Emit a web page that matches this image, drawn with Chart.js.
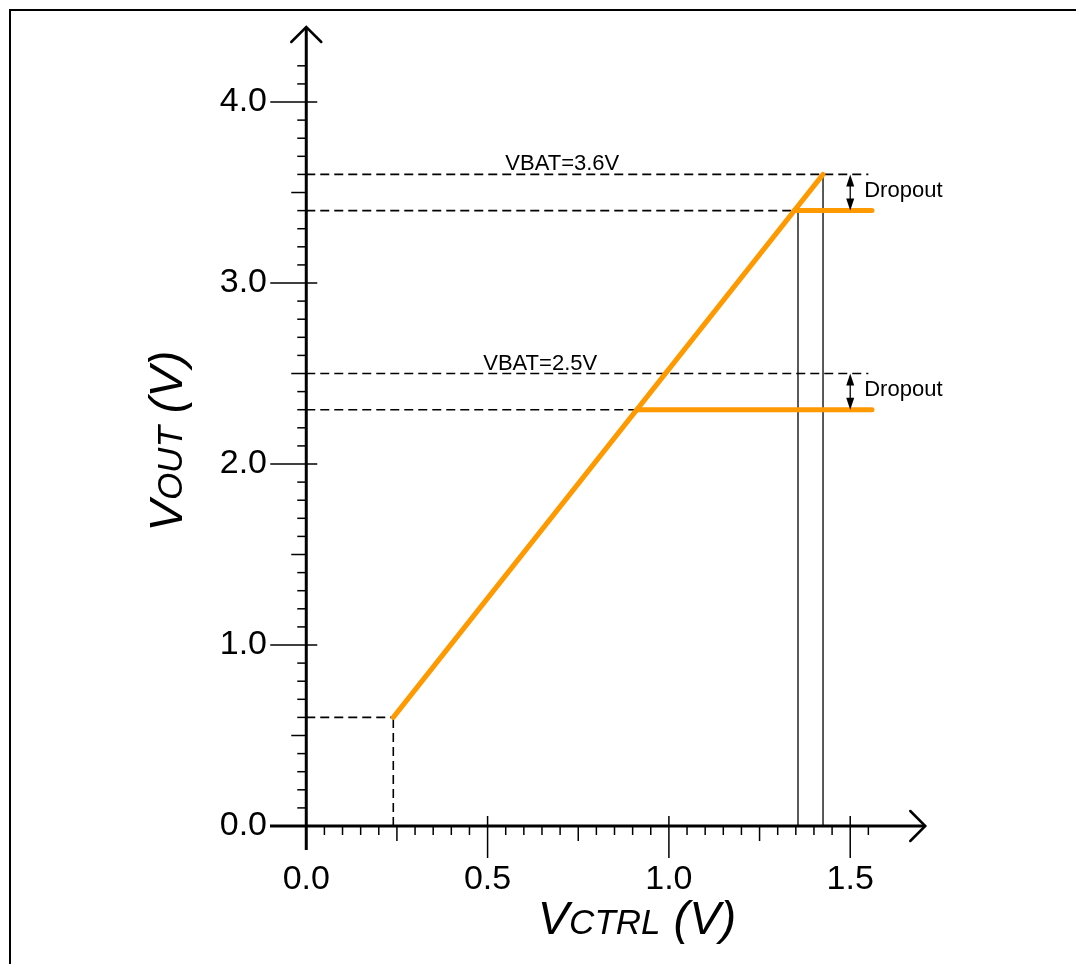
<!DOCTYPE html>
<html lang="en">
<head>
<meta charset="UTF-8">
<title>VOUT vs VCTRL</title>
<script src="https://cdn.jsdelivr.net/npm/chart.js"></script>
<style>
  html, body { margin: 0; padding: 0; background: #fff; }
  body { width: 1076px; height: 964px; position: relative; overflow: hidden; }
  .frame {
    position: absolute; left: 9px; top: 9px; right: 0; bottom: 0;
    border-left: 2.5px solid #000; border-top: 2.5px solid #000;
  }
  canvas { position: absolute; left: 0; top: 0; }
</style>
</head>
<body>
<div class="frame"></div>
<canvas id="transferChart" width="1076" height="964"></canvas>
<script>
// axis tick labels
const xTicks = [0, 0.5, 1.0, 1.5];
const yTicks = [0, 1.0, 2.0, 3.0, 4.0];

// orange transfer curve: linear ramp, then clamped at VBAT - dropout
const rampX = [0.24, 1.425];
const rampY = [0.6, 3.6];
const clampStartX = [1.346, 0.912];
const clampEndX = [1.56, 1.56];
const clampY = [3.4, 2.3];

// battery levels (dashed guides) and their labels
const vbatLevels = [3.6, 2.5];
const vbatLabels = ['VBAT=3.6V', 'VBAT=2.5V'];
const vbatLabelX = [0.549, 0.488];
const guideEndX = 1.55;
const dropoutX = 1.5;
const dropoutLabel = 'Dropout';

// thin markers dropping to the x axis
const markerX = [1.356, 1.425];
const markerTopY = [3.4, 3.6];

const ORANGE = '#ff9900';
const FONT = '"Liberation Sans", Arial, sans-serif';

const pt = (x, y) => ({ x, y });

function curve(points) {
  return {
    data: points, borderColor: ORANGE, borderWidth: 5, borderCapStyle: 'round',
    borderJoinStyle: 'round', showLine: true, pointRadius: 0, order: 0
  };
}
function dashed(points) {
  return {
    data: points, borderColor: '#000', borderWidth: 1.6, borderDash: [9, 5],
    showLine: true, pointRadius: 0, order: 2
  };
}
function thin(points) {
  return {
    data: points, borderColor: '#000', borderWidth: 1.3, showLine: true,
    pointRadius: 0, order: 1
  };
}

const datasets = [
  curve([pt(rampX[0], rampY[0]), pt(rampX[1], rampY[1])]),
  curve([pt(clampStartX[0], clampY[0]), pt(clampEndX[0], clampY[0])]),
  curve([pt(clampStartX[1], clampY[1]), pt(clampEndX[1], clampY[1])]),
  dashed([pt(0, vbatLevels[0]), pt(guideEndX, vbatLevels[0])]),
  dashed([pt(0, vbatLevels[1]), pt(guideEndX, vbatLevels[1])]),
  dashed([pt(0, clampY[0]), pt(clampStartX[0], clampY[0])]),
  dashed([pt(0, clampY[1]), pt(clampStartX[1], clampY[1])]),
  dashed([pt(0, rampY[0]), pt(rampX[0], rampY[0])]),
  dashed([pt(rampX[0], 0), pt(rampX[0], rampY[0])]),
  thin([pt(markerX[0], 0), pt(markerX[0], markerTopY[0])]),
  thin([pt(markerX[1], 0), pt(markerX[1], markerTopY[1])])
];

function line(ctx, x1, y1, x2, y2) {
  ctx.beginPath();
  ctx.moveTo(x1, y1);
  ctx.lineTo(x2, y2);
  ctx.stroke();
}

// draws text pieces of mixed size on one baseline, centred on (0,0)
function mixedText(ctx, parts) {
  let total = 0;
  parts.forEach(p => { ctx.font = p.font; p.w = ctx.measureText(p.text).width; total += p.w; });
  let cx = -total / 2;
  parts.forEach(p => { ctx.font = p.font; ctx.fillText(p.text, cx, 0); cx += p.w; });
}

// crossing axes with arrows, minor ticks, annotations and titles
const axesPlugin = {
  id: 'axesPlugin',
  afterDatasetsDraw(chart) {
    const { ctx, scales: { x, y } } = chart;
    const x0 = x.getPixelForValue(0);
    const y0 = y.getPixelForValue(0);
    ctx.save();
    ctx.strokeStyle = '#000';
    ctx.fillStyle = '#000';

    // y ticks (left of axis), majors crossing
    ctx.lineWidth = 1.5;
    for (let i = 1; i <= 42; i++) {
      const py = y.getPixelForValue(i / 10);
      if (i % 10 === 0) line(ctx, x0 - 36, py, x0 + 11, py);
      else if (i % 5 === 0) line(ctx, x0 - 15, py, x0, py);
      else line(ctx, x0 - 9, py, x0, py);
    }
    // x ticks (below axis), majors crossing
    for (let i = 1; i <= 31; i++) {
      const px = x.getPixelForValue(i / 20);
      if (i % 10 === 0) line(ctx, px, y0 - 10, px, y0 + 32);
      else if (i % 5 === 0) line(ctx, px, y0, px, y0 + 15);
      else line(ctx, px, y0, px, y0 + 9);
    }

    // axis lines
    ctx.lineWidth = 3;
    const yTop = chart.chartArea.top + 1;
    const xRight = x.getPixelForValue(1.707);
    line(ctx, x0, chart.chartArea.bottom, x0, yTop);
    line(ctx, chart.chartArea.left, y0, xRight, y0);

    // open arrow heads
    ctx.lineWidth = 2.5;
    ctx.lineCap = 'round';
    ctx.lineJoin = 'miter';
    ctx.beginPath();
    ctx.moveTo(x0 - 15, yTop + 15); ctx.lineTo(x0, yTop); ctx.lineTo(x0 + 15, yTop + 15);
    ctx.stroke();
    ctx.beginPath();
    ctx.moveTo(xRight - 15, y0 - 15); ctx.lineTo(xRight, y0); ctx.lineTo(xRight - 15, y0 + 15);
    ctx.stroke();
    ctx.lineCap = 'butt';

    // dropout double arrows and labels
    const ax = x.getPixelForValue(dropoutX);
    ctx.lineWidth = 1.3;
    ctx.font = '22px ' + FONT;
    ctx.textAlign = 'left';
    ctx.textBaseline = 'alphabetic';
    vbatLevels.forEach((lvl, i) => {
      const top = y.getPixelForValue(lvl);
      const bot = y.getPixelForValue(clampY[i]);
      line(ctx, ax, top + 4, ax, bot - 4);
      ctx.beginPath();
      ctx.moveTo(ax, top); ctx.lineTo(ax - 4, top + 12); ctx.lineTo(ax + 4, top + 12); ctx.closePath();
      ctx.fill();
      ctx.beginPath();
      ctx.moveTo(ax, bot); ctx.lineTo(ax - 4, bot - 12); ctx.lineTo(ax + 4, bot - 12); ctx.closePath();
      ctx.fill();
      ctx.fillText(dropoutLabel, ax + 14, (top + bot) / 2 + 4);
      ctx.fillText(vbatLabels[i], x.getPixelForValue(vbatLabelX[i]), top - 4);
    });

    // axis titles with subscript-style small caps
    ctx.textAlign = 'left';
    ctx.textBaseline = 'alphabetic';
    const big = 'italic 47px ' + FONT;
    const small = 'italic 35px ' + FONT;
    ctx.save();
    ctx.translate(637, 934);
    mixedText(ctx, [{ text: 'V', font: big }, { text: 'CTRL', font: small }, { text: ' (V)', font: big }]);
    ctx.restore();
    ctx.save();
    ctx.translate(182, 441);
    ctx.rotate(-Math.PI / 2);
    mixedText(ctx, [{ text: 'V', font: big }, { text: 'OUT', font: small }, { text: ' (V)', font: big }]);
    ctx.restore();

    ctx.restore();
  }
};

const tickFont = { family: FONT, size: 34 };

new Chart(document.getElementById('transferChart'), {
  type: 'scatter',
  data: { datasets },
  options: {
    responsive: false,
    animation: false,
    devicePixelRatio: 1,
    layout: { padding: { left: 170, right: 146, top: 26, bottom: 34 } },
    plugins: { legend: { display: false }, tooltip: { enabled: false } },
    scales: {
      x: {
        type: 'linear', min: -0.1, max: 1.72,
        grid: { display: false, drawTicks: false }, border: { display: false },
        ticks: { font: tickFont, color: '#000', padding: 9, maxRotation: 0,
                 callback: v => v.toFixed(1) },
        afterBuildTicks: s => { s.ticks = xTicks.map(v => ({ value: v })); },
        afterFit: s => { s.height = 80; }
      },
      y: {
        type: 'linear', min: -0.1326, max: 4.42,
        grid: { display: false, drawTicks: false }, border: { display: false },
        ticks: { font: tickFont, color: '#000', padding: 3,
                 callback: v => v.toFixed(1) },
        afterBuildTicks: s => { s.ticks = yTicks.map(v => ({ value: v })); },
        afterFit: s => { s.width = 100; }
      }
    }
  },
  plugins: [axesPlugin]
});
</script>
</body>
</html>
